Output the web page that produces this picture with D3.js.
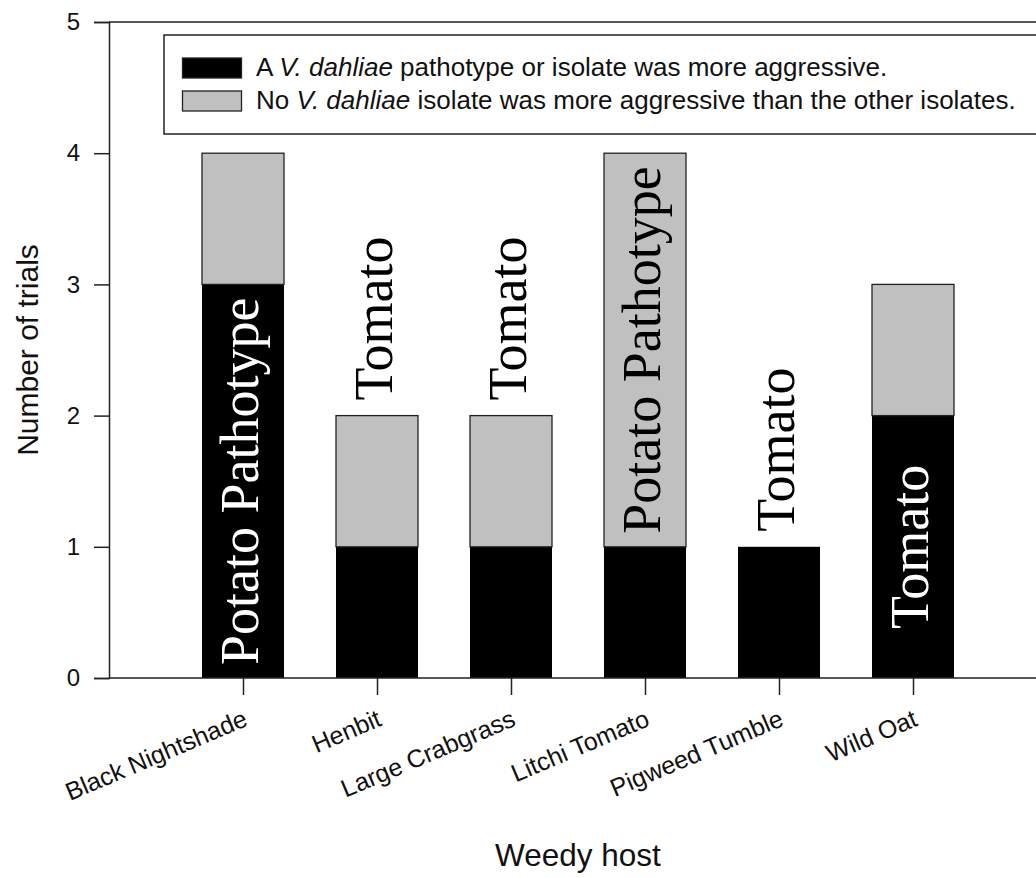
<!DOCTYPE html>
<html>
<head>
<meta charset="utf-8">
<script src="https://cdn.jsdelivr.net/npm/d3@7"></script>
<style>
  html, body { margin: 0; padding: 0; background: #fff; }
  svg { display: block; }
</style>
</head>
<body>
<svg id="chart" width="1036" height="878"></svg>
<script>
// ---- data ----
const categories = ["Black Nightshade", "Henbit", "Large Crabgrass", "Litchi Tomato", "Pigweed Tumble", "Wild Oat"];
const aggressive = [3, 1, 1, 1, 1, 2];      // black: a pathotype/isolate was more aggressive
const noDifference = [1, 1, 1, 3, 0, 1];    // gray: no isolate was more aggressive
const barLabels = ["Potato Pathotype", "Tomato", "Tomato", "Potato Pathotype", "Tomato", "Tomato"];
const labelSegment = ["black", "above", "above", "gray", "above", "black"];
const yTicks = [0, 1, 2, 3, 4, 5];
const legendItems = [
  { key: "aggressive", pre: "A ", ital: "V. dahliae", post: " pathotype or isolate was more aggressive." },
  { key: "noDifference", pre: "No ", ital: "V. dahliae", post: " isolate was more aggressive than the other isolates." }
];

const colors = { aggressive: "#000000", noDifference: "#c0c0c0" };
const sans = "'Liberation Sans', Arial, sans-serif";
const serif = "'Liberation Serif', 'Times New Roman', serif";

const svg = d3.select("#chart");

// ---- scales ----
const x = d3.scaleLinear().domain([0, categories.length + 1]).range([109, 1047]);
const y = d3.scaleLinear().domain([0, 5]).range([678, 22]);
const step = x(1) - x(0);
const barW = step * 0.612;

const rows = categories.map((c, i) => ({
  cat: c, i,
  cx: x(i + 1),
  agg: aggressive[i],
  nod: noDifference[i],
  label: barLabels[i],
  seg: labelSegment[i]
}));

// ---- bars ----
const g = svg.append("g");
g.selectAll("rect.agg").data(rows).join("rect")
  .attr("class", "agg")
  .attr("x", d => d.cx - barW / 2)
  .attr("width", barW)
  .attr("y", d => y(d.agg))
  .attr("height", d => y(0) - y(d.agg))
  .attr("fill", colors.aggressive);

g.selectAll("rect.nod").data(rows.filter(d => d.nod > 0)).join("rect")
  .attr("class", "nod")
  .attr("x", d => d.cx - barW / 2)
  .attr("width", barW)
  .attr("y", d => y(d.agg + d.nod))
  .attr("height", d => y(d.agg) - y(d.agg + d.nod))
  .attr("fill", colors.noDifference)
  .attr("stroke", "#222")
  .attr("stroke-width", 1.3);

// ---- bar labels ----
g.selectAll("text.barlab").data(rows).join("text")
  .attr("class", "barlab")
  .attr("font-family", serif)
  .attr("font-size", 54)
  .attr("fill", d => d.seg === "black" ? "#fff" : "#000")
  .attr("text-anchor", d => d.seg === "above" ? "start" : "middle")
  .attr("transform", d => {
    let ty;
    if (d.seg === "black") ty = (y(0) + y(d.agg)) / 2;
    else if (d.seg === "gray") ty = (y(d.agg) + y(d.agg + d.nod)) / 2;
    else ty = y(d.agg + d.nod) - 15;
    return `translate(${d.cx + 15},${ty}) rotate(-90)`;
  })
  .text(d => d.label);

// ---- frame / axes ----
const axisColor = "#222";
svg.append("line")
  .attr("x1", x(0)).attr("x2", x(categories.length + 1))
  .attr("y1", y(5)).attr("y2", y(5))
  .attr("stroke", axisColor).attr("stroke-width", 1.5);
svg.append("line")
  .attr("x1", x(0)).attr("x2", x(categories.length + 1))
  .attr("y1", y(0)).attr("y2", y(0))
  .attr("stroke", axisColor).attr("stroke-width", 1.5);

const yAxis = svg.append("g")
  .attr("transform", `translate(${x(0)},0)`)
  .call(d3.axisLeft(y).tickValues(yTicks).tickFormat(d3.format("d")).tickSize(15).tickPadding(14));
yAxis.select(".domain").attr("stroke", axisColor).attr("stroke-width", 1.5);
yAxis.selectAll(".tick line").attr("stroke", axisColor).attr("stroke-width", 1.5);
yAxis.selectAll(".tick text")
  .attr("font-family", sans).attr("font-size", 24).attr("fill", "#111");

const xAxis = svg.append("g")
  .attr("transform", `translate(0,${y(0)})`)
  .call(d3.axisBottom(x).tickValues(d3.range(1, categories.length + 1)).tickSize(17).tickFormat(""));
xAxis.select(".domain").remove();
xAxis.selectAll(".tick line").attr("stroke", axisColor).attr("stroke-width", 1.5);

// category labels
svg.selectAll("text.cat").data(rows).join("text")
  .attr("class", "cat")
  .attr("font-family", sans)
  .attr("font-size", 25)
  .attr("fill", "#111")
  .attr("text-anchor", "end")
  .attr("transform", d => `translate(${d.cx + 6},${y(0) + 47}) rotate(-23)`)
  .text(d => d.cat);

// axis titles
svg.append("text")
  .attr("font-family", sans).attr("font-size", 30).attr("fill", "#111")
  .attr("text-anchor", "middle")
  .attr("transform", `translate(38,${(y(0) + y(5)) / 2}) rotate(-90)`)
  .text("Number of trials");

svg.append("text")
  .attr("font-family", sans).attr("font-size", 31.5).attr("fill", "#111")
  .attr("text-anchor", "middle")
  .attr("x", (x(0) + x(categories.length + 1)) / 2)
  .attr("y", 866)
  .text("Weedy host");

// ---- legend ----
const leg = svg.append("g");
leg.append("rect")
  .attr("x", 164).attr("y", 35)
  .attr("width", 900).attr("height", 99)
  .attr("fill", "#fff").attr("stroke", axisColor).attr("stroke-width", 1.5);

const legRows = leg.selectAll("g.item").data(legendItems).join("g")
  .attr("class", "item")
  .attr("transform", (d, i) => `translate(0,${i * 33})`);
legRows.append("rect")
  .attr("x", 182.5).attr("y", 58)
  .attr("width", 59).attr("height", 20)
  .attr("fill", d => colors[d.key])
  .attr("stroke", "#222").attr("stroke-width", 1.3);
const lt = legRows.append("text")
  .attr("x", 256).attr("y", 76)
  .attr("font-family", sans).attr("font-size", 26).attr("fill", "#111");
lt.append("tspan").text(d => d.pre);
lt.append("tspan").attr("font-style", "italic").text(d => d.ital);
lt.append("tspan").text(d => d.post);
</script>
</body>
</html>
